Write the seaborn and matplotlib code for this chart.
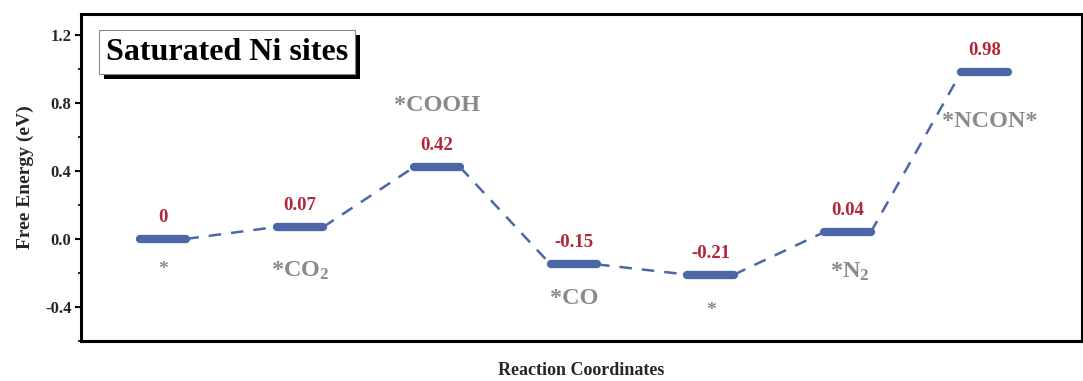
import numpy as np
import pandas as pd
import matplotlib
matplotlib.use("Agg")
import matplotlib.pyplot as plt
import seaborn as sns
from matplotlib.patches import Rectangle

# ---- data ----
steps = [0, 1, 2, 3, 4, 5, 6]
energies = [0.00, 0.07, 0.42, -0.15, -0.21, 0.04, 0.98]
value_labels = ["0", "0.07", "0.42", "-0.15", "-0.21", "0.04", "0.98"]
species = ["*", "*CO$_2$", "*COOH", "*CO", "*", "*N$_2$", "*NCON*"]

sns.set_theme(style="ticks")
plt.rcParams["font.family"] = ["Liberation Serif", "DejaVu Serif"]
plt.rcParams["mathtext.fontset"] = "custom"
plt.rcParams["mathtext.rm"] = "Liberation Serif:bold"
plt.rcParams["mathtext.bf"] = "Liberation Serif:bold"
plt.rcParams["mathtext.default"] = "bf"

BLUE = "#4b67a6"
RED = "#b3263a"
GRAY = "#8a8a8a"

fig = plt.figure(figsize=(10.83, 3.81), dpi=100)
ax = fig.add_axes([0.0748, 0.105, 0.924, 0.858])

hw = 0.17
# connectors
rows = []
for i in range(len(steps) - 1):
    rows.append({"x": steps[i] + hw, "y": energies[i], "seg": i})
    rows.append({"x": steps[i + 1] - hw, "y": energies[i + 1], "seg": i})
conn = pd.DataFrame(rows)
sns.lineplot(data=conn, x="x", y="y", units="seg", estimator=None,
             color=BLUE, lw=1.8, dashes=False, linestyle=(0, (5, 4)),
             ax=ax, legend=False, sort=False)

# levels
lev = pd.DataFrame({"step": steps, "E": energies})
ax.hlines(lev["E"], lev["step"] - hw, lev["step"] + hw, color=BLUE, lw=6,
          capstyle="round", zorder=3)

# value labels (red)
for x, e, t in zip(steps, energies, value_labels):
    ax.annotate(t, (x, e), xytext=(0, 13), textcoords="offset pixels",
                ha="center", va="bottom", color=RED, fontsize=13.5,
                fontweight="bold")

# species labels (gray)
offs = [(0, -31), (0, -44), (0, 62), (0, -34), (0, -36), (2, -40), (5, -50)]
for x, e, t, (dx, dy) in zip(steps, energies, species, offs):
    ax.annotate(t, (x, e), xytext=(dx, dy), textcoords="offset pixels",
                ha="center", va="center", color=GRAY,
                fontsize=17.5 if t != "*" else 14, fontweight="bold")

ax.set_xlim(-0.6, 6.71)
ax.set_ylim(-0.6, 1.32)
ax.set_yticks([-0.4, 0.0, 0.4, 0.8, 1.2])
ax.set_yticklabels(["-0.4", "0.0", "0.4", "0.8", "1.2"])
ax.set_yticks(np.arange(-0.6, 1.3, 0.2), minor=True)
ax.set_xticks([])
for lab in ax.get_yticklabels():
    lab.set_fontweight("bold")
    lab.set_fontsize(12)
ax.tick_params(axis="y", which="major", direction="out", length=4, width=1.5, color="black", pad=3)
ax.tick_params(axis="y", which="minor", direction="out", length=2.5, width=1.2, color="black")
for s in ax.spines.values():
    s.set_linewidth(2.2)
    s.set_color("black")

ax.set_ylabel("Free Energy (eV)", fontsize=14, fontweight="bold", labelpad=8)
ax.set_xlabel("Reaction Coordinates", fontsize=13, fontweight="bold", labelpad=15)

# title box with shadow
t = ax.text(0.146, 0.884, "Saturated Ni sites", transform=ax.transAxes,
            ha="center", va="center", fontsize=23, fontweight="bold",
            color="black", zorder=6,
            bbox=dict(boxstyle="square,pad=0.22", fc="white", ec="#888888", lw=0.8))
fig.canvas.draw()
bb = t.get_bbox_patch().get_window_extent(fig.canvas.get_renderer())
inv = ax.transAxes.inverted()
(x0, y0), (x1, y1) = inv.transform([[bb.x0 + 5, bb.y0 - 5], [bb.x1 + 5, bb.y1 - 5]])
ax.add_patch(Rectangle((x0, y0), x1 - x0, y1 - y0, transform=ax.transAxes,
                       fc="black", ec="none", zorder=5))

fig.savefig("out.png", dpi=100)
